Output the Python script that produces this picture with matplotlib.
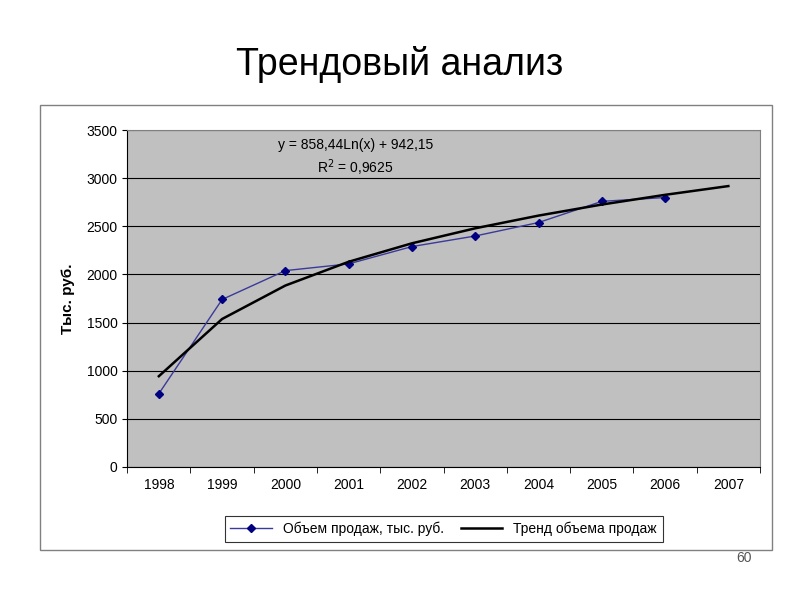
import matplotlib

matplotlib.use("Agg")
import matplotlib.pyplot as plt
from matplotlib.patches import Rectangle

plt.rcParams["font.family"] = ["Liberation Sans", "DejaVu Sans"]

years = ["1998", "1999", "2000", "2001", "2002", "2003", "2004", "2005", "2006", "2007"]
sales = [760, 1740, 2040, 2110, 2290, 2400, 2540, 2760, 2800]
# trend values from y = 858,44Ln(x) + 942,15
trend = [942, 1537, 1885, 2132, 2324, 2480, 2612, 2727, 2828, 2919]

fig = plt.figure(figsize=(8, 6), dpi=100)
fig.patch.set_facecolor("white")

fig.text(0.5, 0.892, "Трендовый анализ", ha="center", va="center", fontsize=27)
fig.text(0.94, 0.07, "60", ha="right", va="center", fontsize=10, color="#555555")

fig.patches.append(Rectangle((0.05, 0.083), 0.915, 0.742, transform=fig.transFigure,
                             fill=False, edgecolor="#808080", linewidth=1))

ax = fig.add_axes([0.159, 0.222, 0.791, 0.561])
ax.set_facecolor("#c0c0c0")
ax.set_xlim(-0.5, 9.5)
ax.set_ylim(0, 3500)
ax.set_yticks(range(0, 3501, 500))
ax.grid(axis="y", color="black", linewidth=0.8)
ax.set_axisbelow(True)
ax.set_xticks(range(len(years)))
ax.set_xticklabels(years, fontsize=10)
ax.set_xticks([i - 0.5 for i in range(len(years) + 1)], minor=True)
ax.tick_params(axis="x", which="major", length=0, pad=8)
ax.tick_params(axis="x", which="minor", length=4)
ax.tick_params(axis="y", labelsize=10)
for s in ax.spines.values():
    s.set_color("#808080")
ax.spines["left"].set_color("black")
ax.spines["bottom"].set_color("black")

ax.plot(range(len(sales)), sales, color="#3a3a9a", linewidth=1, marker="D",
        markersize=4, markerfacecolor="#000080", markeredgecolor="#000080",
        label="Объем продаж, тыс. руб.")
ax.plot(range(len(trend)), trend, color="black", linewidth=1.8,
        label="Тренд объема продаж")
ax.set_ylabel("Тыс. руб.", fontsize=11, fontweight="bold", labelpad=8)

fig.text(0.444, 0.758, "y = 858,44Ln(x) + 942,15", ha="center", va="center", fontsize=10)
fig.text(0.444, 0.721, "R$^2$ = 0,9625", ha="center", va="center", fontsize=10)

leg = ax.legend(loc="center", bbox_to_anchor=(0.5, -0.185), ncol=2, fontsize=10,
                frameon=True, fancybox=False, edgecolor="black", handlelength=3,
                columnspacing=1.2, borderpad=0.4)
leg.get_frame().set_linewidth(0.8)

fig.savefig("out.png", dpi=100)
